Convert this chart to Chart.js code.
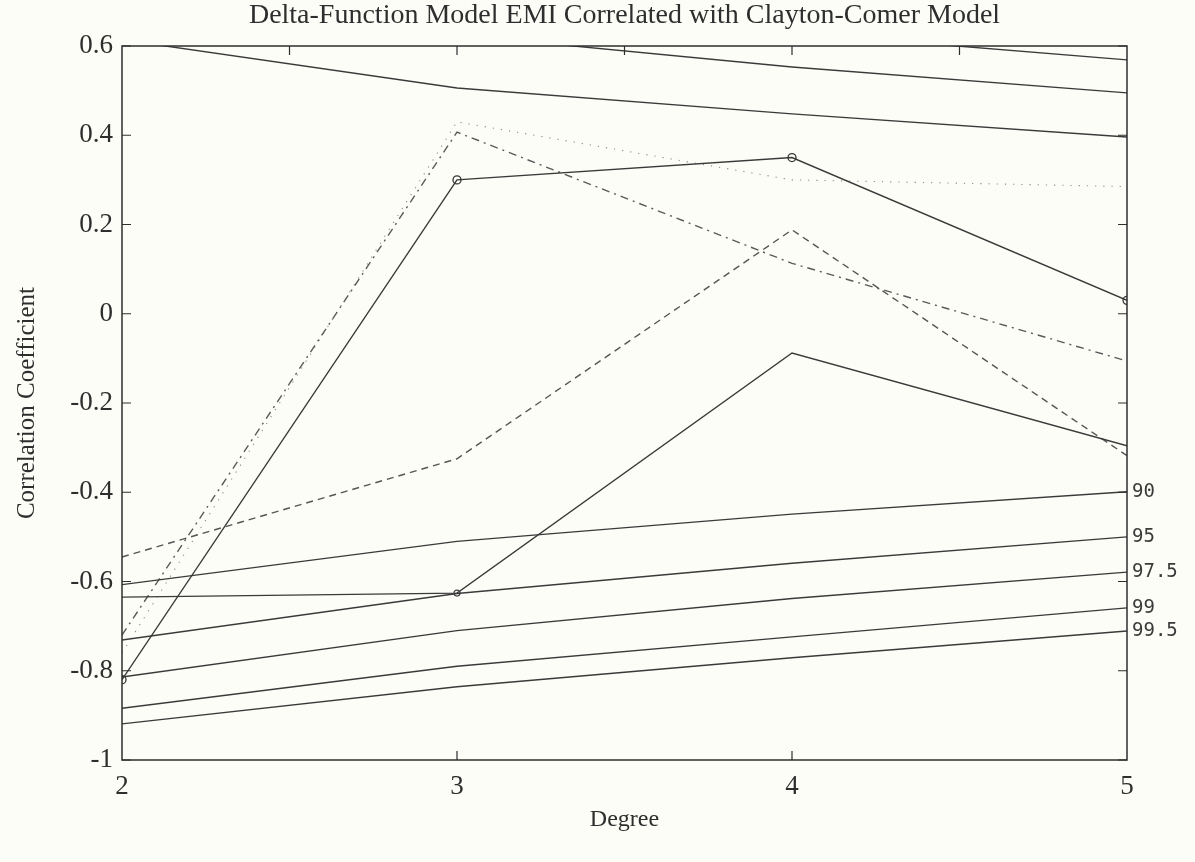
<!DOCTYPE html>
<html>
<head>
<meta charset="utf-8">
<script src="https://cdn.jsdelivr.net/npm/chart.js@4/dist/chart.umd.min.js"></script>
<style>
  html, body { margin: 0; padding: 0; background: #fdfdf7; }
  #wrap { width: 1195px; height: 862px; position: relative; }
</style>
</head>
<body>
<div id="wrap"><canvas id="chart"></canvas></div>
<script>
// Polynomial degree on the horizontal axis
const degrees = [2, 3, 4, 5];

// Correlation of the delta-function EMI with the Clayton-Comer model
const seriesCircles  = [-0.82, 0.30, 0.35, 0.03];
const seriesFlat     = [-0.635, -0.626, -0.088, -0.296];
const seriesDashed   = [-0.545, -0.325, 0.188, -0.318];
const seriesDashDot  = [-0.72, 0.407, 0.113, -0.106];
const seriesDotted   = [-0.76, 0.43, 0.30, 0.285];

// Significance limits (negative side), labelled at the right edge
const conf90  = [-0.607, -0.510, -0.449, -0.399];
const conf95  = [-0.731, -0.627, -0.559, -0.500];
const conf975 = [-0.814, -0.710, -0.638, -0.579];
const conf99  = [-0.884, -0.790, -0.724, -0.659];
const conf995 = [-0.919, -0.836, -0.771, -0.711];
const confLabels = ['90', '95', '97.5', '99', '99.5'];

// Significance limits (positive side)
const upper90  = [0.614, 0.506, 0.448, 0.396];
const upper95  = [0.730, 0.625, 0.553, 0.495];
const upper975 = [0.810, 0.700, 0.630, 0.569];

// Axis ticks
const yTickValues = [0.6, 0.4, 0.2, 0, -0.2, -0.4, -0.6, -0.8, -1];
const yTickLabels = ['0.6', '0.4', '0.2', '0', '-0.2', '-0.4', '-0.6', '-0.8', '-1'];
const xTickLabels = ['2', '3', '4', '5'];
const topTickValues = [2.5, 3, 3.5, 4, 4.5];
const bottomTickValues = [3, 4];

const ink = '#2e2e2e';
const serif = 'Liberation Serif';

const toPoints = arr => arr.map((v, i) => ({ x: degrees[i], y: v }));

function solid(data, extra) {
  return Object.assign({
    data: toPoints(data),
    borderColor: '#3a3a3a',
    borderWidth: 1.4,
    pointRadius: 0,
    fill: false,
    tension: 0
  }, extra || {});
}

const confSets = [conf90, conf95, conf975, conf99, conf995];

const datasets = [
  solid(upper90, { clip: 0 }),
  solid(upper95, { clip: 0 }),
  solid(upper975, { clip: 0 }),
  ...confSets.map((arr, i) => solid(arr, { label: confLabels[i], clip: 0 })),
  solid(seriesCircles, {
    pointRadius: 4, pointStyle: 'circle', pointBorderWidth: 1.3,
    pointBackgroundColor: 'rgba(0,0,0,0)', pointBorderColor: '#333'
  }),
  solid(seriesFlat, {
    pointRadius: [0, 3, 0, 0], pointBorderWidth: 1.2,
    pointBackgroundColor: 'rgba(0,0,0,0)', pointBorderColor: '#444'
  }),
  solid(seriesDashed, { borderColor: '#555', borderWidth: 1.4, borderDash: [7, 5] }),
  solid(seriesDashDot, { borderColor: '#5a5a5a', borderWidth: 1.4, borderDash: [8, 5, 2, 5] }),
  solid(seriesDotted, { borderColor: '#8a8a8a', borderWidth: 1.1, borderDash: [1.2, 7] })
];

// Box frame, inward tick marks and the right-hand confidence labels
const framePlugin = {
  id: 'frame',
  afterDraw(chart) {
    const { ctx, chartArea: a, scales: { x, y } } = chart;
    ctx.save();
    ctx.strokeStyle = ink;
    ctx.lineWidth = 1.5;
    ctx.strokeRect(a.left, a.top, a.right - a.left, a.bottom - a.top);
    ctx.lineWidth = 1.2;
    const len = 9;
    ctx.beginPath();
    yTickValues.forEach(v => {
      const py = y.getPixelForValue(v);
      ctx.moveTo(a.left, py); ctx.lineTo(a.left + len, py);
      ctx.moveTo(a.right, py); ctx.lineTo(a.right - len, py);
    });
    topTickValues.forEach(v => {
      const px = x.getPixelForValue(v);
      ctx.moveTo(px, a.top); ctx.lineTo(px, a.top + len);
    });
    bottomTickValues.forEach(v => {
      const px = x.getPixelForValue(v);
      ctx.moveTo(px, a.bottom); ctx.lineTo(px, a.bottom - len);
    });
    ctx.stroke();

    ctx.fillStyle = '#3a3a3a';
    ctx.font = '19px "DejaVu Sans Mono"';
    ctx.textBaseline = 'middle';
    ctx.textAlign = 'left';
    chart.data.datasets.forEach((ds, i) => {
      if (!confLabels.includes(ds.label)) return;
      const pts = chart.getDatasetMeta(i).data;
      const last = pts[pts.length - 1];
      ctx.fillText(ds.label, last.x + 5, last.y);
    });
    ctx.restore();
  }
};

new Chart(document.getElementById('chart'), {
  type: 'line',
  data: { datasets },
  plugins: [framePlugin],
  options: {
    responsive: true,
    maintainAspectRatio: false,
    animation: false,
    devicePixelRatio: 1,
    layout: { padding: { left: 0, right: 68, top: 0, bottom: 0 } },
    plugins: {
      legend: { display: false },
      tooltip: { enabled: false },
      title: {
        display: true,
        fullSize: false,
        text: 'Delta-Function Model EMI Correlated with Clayton-Comer Model',
        color: ink,
        font: { family: serif, size: 28, weight: 'normal', lineHeight: 1 },
        padding: { top: 2, bottom: 16 }
      }
    },
    scales: {
      x: {
        type: 'linear',
        min: 2, max: 5,
        grid: { display: false, drawTicks: false },
        border: { display: false },
        ticks: {
          stepSize: 1, padding: 11, color: ink,
          font: { family: serif, size: 27 },
          callback: v => xTickLabels[degrees.indexOf(v)] ?? ''
        },
        title: {
          display: true, text: 'Degree', color: ink,
          font: { family: serif, size: 24 },
          padding: { top: 0, bottom: 28 }
        },
        afterFit(s) { s.height = 102; }
      },
      y: {
        min: -1, max: 0.6,
        grid: { display: false, drawTicks: false },
        border: { display: false },
        ticks: {
          stepSize: 0.2, padding: 9, color: ink,
          font: { family: serif, size: 27 },
          callback: v => {
            const i = yTickValues.findIndex(t => Math.abs(t - v) < 1e-6);
            return i >= 0 ? yTickLabels[i] : '';
          }
        },
        title: {
          display: true, text: 'Correlation Coefficient', color: ink,
          font: { family: serif, size: 25 },
          padding: { top: 12, bottom: 0 }
        },
        afterFit(s) { s.width = 122; }
      }
    }
  }
});
</script>
</body>
</html>
